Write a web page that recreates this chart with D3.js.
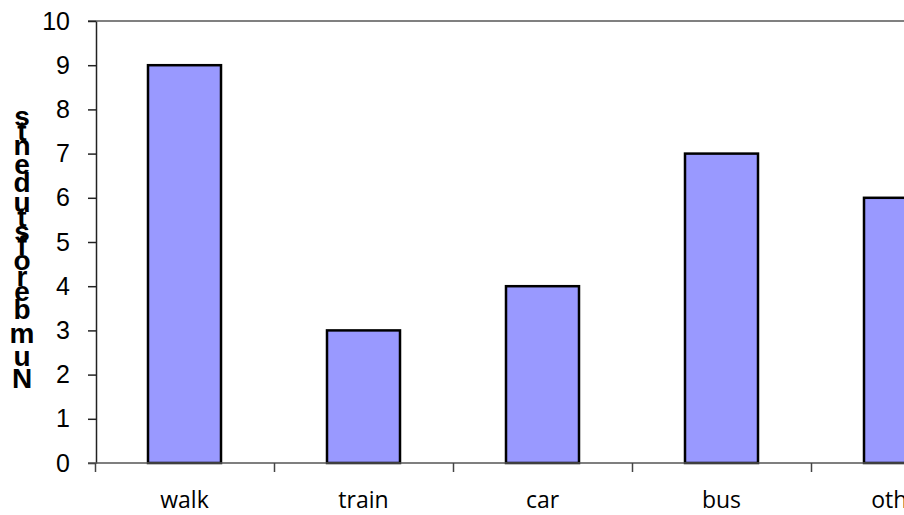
<!DOCTYPE html>
<html>
<head>
<meta charset="utf-8">
<script src="https://cdn.jsdelivr.net/npm/d3@7"></script>
<style>
  html, body { margin: 0; padding: 0; background: #fff; overflow: hidden; }
  svg { display: block; }
</style>
</head>
<body>
<div id="chart"></div>
<script>
//Chart data
var categories = ["walk", "train", "car", "bus", "other"];
var students = [9, 3, 4, 7, 6];
var yTicks = [0, 1, 2, 3, 4, 5, 6, 7, 8, 9, 10];
var yLabel = "Number of students";

//Layout configuration
var configuration = {
    width: 904,
    height: 515,
    left: 95,
    band: 179,
    top: 21,
    bottom: 463,
    barWidth: 73
};

//Create SVG element
var svg = d3.select("#chart")
    .append("svg")
        .attr("width", configuration.width)
        .attr("height", configuration.height)
        .style("background-color", "#FFF");

//Scales - the band scale runs past the right edge, so the last bar gets cut
var scaleX = d3.scaleBand()
    .domain(categories)
    .range([configuration.left, configuration.left + configuration.band * categories.length])
    .padding(0);

var scaleY = d3.scaleLinear()
    .domain([0, 10])
    .range([configuration.bottom, configuration.top]);

//Top border of the plot area
svg.append("line")
    .attr("x1", 88)
    .attr("x2", configuration.width)
    .attr("y1", scaleY(10))
    .attr("y2", scaleY(10))
    .attr("stroke", "#808080")
    .attr("stroke-width", 2);

//Bars
svg.selectAll("rect.bar")
    .data(categories)
    .enter()
    .append("rect")
        .attr("class", "bar")
        .attr("x", function(d) { return scaleX(d) + (scaleX.bandwidth() - configuration.barWidth) / 2; })
        .attr("y", function(d, i) { return scaleY(students[i]); })
        .attr("width", configuration.barWidth)
        .attr("height", function(d, i) { return scaleY(0) - scaleY(students[i]); })
        .attr("fill", "#9999FF")
        .attr("stroke", "#000")
        .attr("stroke-width", 2.5);

//Y axis
var yAxis = svg.append("g")
    .attr("transform", `translate(${configuration.left + 1}, 0)`)
    .call(d3.axisLeft(scaleY).tickValues(yTicks).tickSize(8).tickSizeOuter(0).tickPadding(18));

yAxis.select(".domain").attr("stroke", "#222").attr("stroke-width", 1.5);
yAxis.selectAll(".tick line").attr("stroke", "#222").attr("stroke-width", 1.5);
yAxis.selectAll(".tick text")
    .attr("fill", "#000")
    .style("font-family", "'Liberation Sans', Arial, sans-serif")
    .style("font-size", "25px");

//X axis - ticks sit on the category borders
var xAxis = svg.append("g")
    .attr("transform", `translate(0, ${configuration.bottom})`);

xAxis.append("line")
    .attr("x1", 88)
    .attr("x2", configuration.width)
    .attr("stroke", "#555")
    .attr("stroke-width", 1.5);

xAxis.selectAll("line.tick")
    .data(categories)
    .enter()
    .append("line")
        .attr("class", "tick")
        .attr("x1", function(d) { return scaleX(d) + 0.5; })
        .attr("x2", function(d) { return scaleX(d) + 0.5; })
        .attr("y1", 0)
        .attr("y2", 9)
        .attr("stroke", "#444")
        .attr("stroke-width", 1.5);

xAxis.selectAll("text")
    .data(categories)
    .enter()
    .append("text")
        .attr("x", function(d) { return scaleX(d) + scaleX.bandwidth() / 2; })
        .attr("y", 45)
        .attr("text-anchor", "middle")
        .style("font-family", "'Open Sans', sans-serif")
        .style("font-size", "23px")
        .text(function(d) { return d; });

//Y label - upright glyphs stacked upwards by their advance width
var labelGroup = svg.append("g")
    .style("font-family", "'Liberation Sans', Arial, sans-serif")
    .style("font-size", "28px")
    .style("font-weight", "bold");

var cursor = 389;
yLabel.split("").forEach(function(ch) {
    var glyph = labelGroup.append("text")
        .attr("x", 22)
        .attr("text-anchor", "middle")
        .text(ch);
    var advance = glyph.node().getComputedTextLength() * 1.13;
    var center = cursor - advance / 2;
    glyph.attr("y", center + 10);
    cursor -= advance;
});
</script>
</body>
</html>
